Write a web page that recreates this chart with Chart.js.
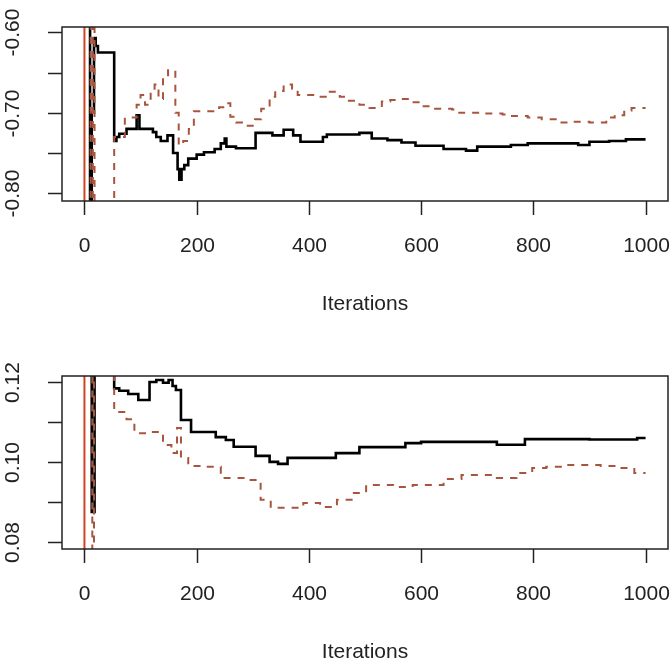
<!DOCTYPE html>
<html>
<head>
<meta charset="utf-8">
<script src="https://cdn.jsdelivr.net/npm/chart.js@4/dist/chart.umd.min.js"></script>
<style>
  html, body { margin: 0; padding: 0; background: #fff; }
  canvas { display: block; }
</style>
</head>
<body>
<canvas id="c1" width="672" height="333"></canvas>
<canvas id="c2" width="672" height="334"></canvas>
<script>
// ---------- data ----------
const xTicks = [0, 200, 400, 600, 800, 1000];
const xTitle = "Iterations";
const refLines = [0];

// top panel
const topYTicks = [-0.80, -0.75, -0.70, -0.65, -0.60];
const topYLabels = ["-0.80", "", "-0.70", "", "-0.60"];
const topBlackX = [0, 10, 13, 17, 20, 24, 53, 57, 62, 75, 93, 98, 122, 128, 136, 148, 158, 166, 169, 173, 178, 185, 200, 213, 232, 243, 250, 253, 270, 305, 335, 355, 372, 385, 425, 432, 490, 512, 540, 565, 590, 640, 680, 700, 760, 790, 850, 880, 900, 935, 965, 1000];
const topBlackY = [-0.30, -1.00, -0.700, -0.607, -0.617, -0.625, -0.735, -0.730, -0.726, -0.720, -0.703, -0.720, -0.724, -0.730, -0.735, -0.728, -0.750, -0.770, -0.783, -0.770, -0.765, -0.757, -0.752, -0.749, -0.745, -0.738, -0.732, -0.742, -0.744, -0.725, -0.728, -0.721, -0.728, -0.736, -0.730, -0.727, -0.725, -0.732, -0.734, -0.737, -0.741, -0.745, -0.747, -0.742, -0.740, -0.738, -0.738, -0.740, -0.736, -0.735, -0.733, -0.733];
const topRedX = [0, 11, 15, 18, 53, 72, 93, 100, 108, 118, 125, 132, 140, 149, 162, 168, 176, 186, 195, 240, 250, 260, 270, 284, 304, 315, 330, 340, 355, 370, 380, 415, 430, 455, 468, 490, 508, 530, 545, 560, 580, 600, 625, 655, 668, 705, 745, 760, 790, 815, 845, 870, 900, 930, 945, 962, 975, 1000];
const topRedY = [-0.30, -1.00, -0.30, -1.00, -0.730, -0.706, -0.690, -0.678, -0.690, -0.672, -0.665, -0.683, -0.655, -0.647, -0.700, -0.740, -0.735, -0.720, -0.698, -0.693, -0.688, -0.705, -0.712, -0.716, -0.708, -0.695, -0.680, -0.673, -0.665, -0.670, -0.678, -0.680, -0.674, -0.680, -0.685, -0.690, -0.694, -0.686, -0.684, -0.683, -0.687, -0.692, -0.695, -0.696, -0.700, -0.701, -0.702, -0.704, -0.706, -0.708, -0.712, -0.711, -0.712, -0.706, -0.703, -0.697, -0.694, -0.694];

// bottom panel
const botYTicks = [0.08, 0.09, 0.10, 0.11, 0.12];
const botYLabels = ["0.08", "", "0.10", "", "0.12"];
const botBlackX = [0, 13, 18, 53, 62, 78, 96, 116, 128, 140, 150, 157, 163, 172, 190, 234, 252, 266, 305, 330, 345, 362, 448, 490, 572, 600, 735, 785, 900, 985, 1000];
const botBlackY = [0.20, 0.0875, 0.20, 0.1184, 0.1178, 0.1170, 0.1155, 0.1200, 0.1205, 0.1198, 0.1205, 0.1190, 0.1180, 0.1105, 0.1075, 0.1062, 0.1055, 0.1038, 0.1015, 0.1000, 0.0995, 0.1010, 0.1022, 0.1037, 0.1047, 0.1050, 0.1043, 0.1057, 0.1056, 0.1060, 0.1060];
const botRedX = [0, 14, 17, 53, 75, 89, 110, 140, 155, 165, 172, 185, 208, 243, 290, 314, 332, 390, 420, 450, 478, 502, 550, 585, 640, 672, 735, 770, 798, 823, 855, 920, 955, 980, 1000];
const botRedY = [0.20, 0.05, 0.20, 0.1125, 0.1107, 0.1072, 0.1075, 0.1042, 0.1022, 0.1085, 0.1010, 0.0990, 0.0988, 0.0960, 0.0955, 0.0905, 0.0885, 0.0897, 0.0887, 0.0905, 0.0922, 0.0942, 0.0937, 0.0942, 0.0957, 0.0967, 0.0960, 0.0972, 0.0985, 0.0988, 0.0992, 0.0990, 0.0985, 0.0972, 0.0972];

// ---------- styling ----------
const FONT = "21px 'Liberation Sans', Arial, Helvetica, sans-serif";
const AXIS_COLOR = "#222";
const BLACK = "#000";
const RED = "#a8553f";
const REF_RED = "#d0431f";

function pts(xs, ys) { return xs.map((x, i) => ({ x: x, y: ys[i] })); }

const rAxes = {
  id: 'rAxes',
  beforeDatasetsDraw(chart, args, opts) {
    const ctx = chart.ctx, a = chart.chartArea, xs = chart.scales.x;
    ctx.save();
    ctx.beginPath(); ctx.rect(a.left, a.top, a.right - a.left, a.bottom - a.top); ctx.clip();
    ctx.strokeStyle = REF_RED; ctx.lineWidth = 2;
    refLines.forEach(v => {
      const px = xs.getPixelForValue(v);
      ctx.beginPath(); ctx.moveTo(px, a.top); ctx.lineTo(px, a.bottom); ctx.stroke();
    });
    ctx.restore();
  },
  afterDraw(chart, args, opts) {
    const ctx = chart.ctx, a = chart.chartArea, xs = chart.scales.x, ys = chart.scales.y;
    ctx.save();
    ctx.strokeStyle = AXIS_COLOR; ctx.lineWidth = 1.5;
    ctx.strokeRect(a.left, a.top, a.right - a.left, a.bottom - a.top);
    ctx.fillStyle = AXIS_COLOR; ctx.font = FONT;
    // x ticks
    ctx.textAlign = 'center'; ctx.textBaseline = 'middle';
    xTicks.forEach(v => {
      const px = Math.round(xs.getPixelForValue(v)) + 0.5;
      ctx.beginPath(); ctx.moveTo(px, a.bottom); ctx.lineTo(px, a.bottom + 14); ctx.stroke();
      ctx.fillText(String(v), px, a.bottom + 45);
    });
    ctx.fillText(xTitle, (a.left + a.right) / 2, a.bottom + 103);
    // y ticks
    opts.yTicks.forEach((v, i) => {
      const py = Math.round(ys.getPixelForValue(v)) + 0.5;
      ctx.beginPath(); ctx.moveTo(a.left, py); ctx.lineTo(a.left - 14, py); ctx.stroke();
      const lab = opts.yLabels[i];
      if (lab) {
        ctx.save();
        ctx.translate(13, py);
        ctx.rotate(-Math.PI / 2);
        ctx.fillText(lab, 0, 0);
        ctx.restore();
      }
    });
    ctx.restore();
  }
};

function makeChart(id, pad, yMin, yMax, yTicks, yLabels, bx, by, rx, ry) {
  return new Chart(document.getElementById(id), {
    type: 'line',
    data: {
      datasets: [
        { data: pts(rx, ry), stepped: true, borderColor: RED, borderWidth: 2, borderDash: [7, 7], pointRadius: 0, fill: false, clip: 0 },
        { data: pts(bx, by), stepped: true, borderColor: BLACK, borderWidth: 2.6, pointRadius: 0, fill: false, clip: 0 }
      ]
    },
    options: {
      responsive: false, animation: false, devicePixelRatio: 1,
      layout: { padding: pad },
      plugins: { legend: { display: false }, tooltip: { enabled: false }, rAxes: { yTicks: yTicks, yLabels: yLabels } },
      scales: {
        x: { type: 'linear', min: -40, max: 1040, display: false },
        y: { type: 'linear', min: yMin, max: yMax, display: false }
      }
    },
    plugins: [rAxes]
  });
}

makeChart('c1', { left: 62, right: 4, top: 27, bottom: 132 }, -0.8096, -0.5934, topYTicks, topYLabels, topBlackX, topBlackY, topRedX, topRedY);
makeChart('c2', { left: 62, right: 4, top: 43, bottom: 118 }, 0.0782, 0.1215, botYTicks, botYLabels, botBlackX, botBlackY, botRedX, botRedY);
</script>
</body>
</html>
